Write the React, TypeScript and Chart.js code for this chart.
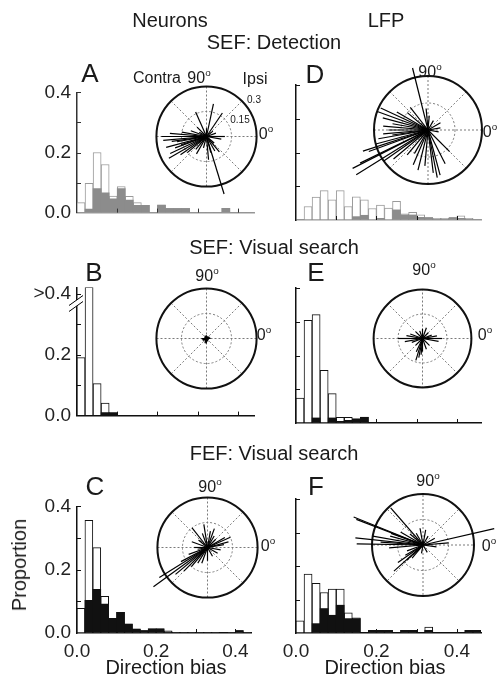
import React, { useEffect, useRef } from 'react';
import { Chart, registerables } from 'chart.js';

Chart.register(...registerables);

const FONT = '"Liberation Sans", Arial, Helvetica, sans-serif';
const BIN = 0.02;

// ---- Histogram data (proportion per 0.02 bin of direction bias) ----
// Neurons, SEF detection (A)
const aAll = [0.033, 0.097, 0.2, 0.16, 0.055, 0.087, 0.054, 0.033, 0.024, 0, 0.025, 0.014, 0.014, 0.014, 0, 0, 0, 0, 0.014, 0, 0, 0];
const aSig = [0, 0.012, 0.08, 0.066, 0.046, 0.08, 0.042, 0.024, 0.024, 0, 0.025, 0.013, 0.013, 0.013, 0, 0, 0, 0, 0.014, 0, 0, 0];
// Neurons, SEF visual search (B)
const bAll = [0.19, 0.42, 0.105, 0.041, 0, 0, 0, 0, 0, 0, 0, 0, 0, 0, 0, 0, 0, 0, 0, 0, 0, 0];
const bSig = [0, 0, 0, 0.01, 0.01, 0, 0, 0, 0, 0, 0, 0, 0, 0, 0, 0, 0, 0, 0, 0, 0, 0];
// Neurons, FEF visual search (C)
const cAll = [0.078, 0.356, 0.27, 0.116, 0.046, 0.065, 0.028, 0.012, 0.008, 0.013, 0.013, 0.007, 0.002, 0.002, 0.002, 0.002, 0.002, 0.002, 0, 0.002, 0.008, 0.002];
const cSig = [0, 0.103, 0.138, 0.091, 0.046, 0.065, 0.028, 0.012, 0.008, 0.013, 0.013, 0.004, 0.002, 0.002, 0.002, 0.002, 0.002, 0.002, 0, 0.002, 0.008, 0.002];
// LFP, SEF detection (D)
const dAll = [0, 0.04, 0.068, 0.087, 0.06, 0.087, 0.04, 0.069, 0.06, 0.034, 0.044, 0.035, 0.055, 0.018, 0.023, 0.015, 0.008, 0.005, 0.005, 0.008, 0.012, 0.005, 0];
const dSig = [0, 0, 0, 0, 0, 0, 0, 0.01, 0.014, 0, 0.005, 0, 0.03, 0.015, 0.015, 0.008, 0.005, 0.003, 0.003, 0.005, 0.005, 0.003, 0];
// LFP, SEF visual search (E)
const eAll = [0.074, 0.304, 0.321, 0.156, 0.087, 0.017, 0.017, 0.012, 0.017, 0, 0, 0, 0, 0, 0, 0, 0, 0, 0, 0, 0, 0, 0];
const eSig = [0, 0, 0.015, 0, 0.015, 0.005, 0.008, 0.012, 0.017, 0, 0, 0, 0, 0, 0, 0, 0, 0, 0, 0, 0, 0, 0];
// LFP, FEF visual search (F)
const fAll = [0.036, 0.176, 0.148, 0.121, 0.131, 0.131, 0.06, 0.045, 0, 0.008, 0.008, 0.008, 0, 0.008, 0.008, 0, 0.018, 0, 0, 0, 0, 0.008, 0.008];
const fSig = [0, 0, 0.028, 0.073, 0.053, 0.083, 0.043, 0.043, 0, 0.008, 0.005, 0.008, 0, 0.008, 0.008, 0, 0.008, 0, 0, 0, 0, 0.008, 0.008];

// ---- Polar insets: preferred direction (deg) and magnitude ----
const aAng = [287, 78, 56, 185, 180, 195, 205, 210, 200, 190, 220, 240, 275, 285, 300, 0, 350, 20, 114, 135, 160, 170, 215, 230, 255, 90, 40, 320, 150, 175, 188, 198, 310];
const aMag = [0.36, 0.2, 0.17, 0.26, 0.27, 0.25, 0.24, 0.26, 0.2, 0.18, 0.15, 0.12, 0.14, 0.1, 0.1, 0.11, 0.09, 0.06, 0.16, 0.08, 0.1, 0.15, 0.19, 0.1, 0.07, 0.05, 0.05, 0.06, 0.05, 0.22, 0.21, 0.16, 0.12];
const bAng = [2, 33, 58, 91, 122, 148, 181, 207, 238, 268, 297, 331, 17, 196, 252, 104];
const bMag = [0.025, 0.02, 0.015, 0.02, 0.02, 0.015, 0.03, 0.025, 0.02, 0.03, 0.02, 0.015, 0.02, 0.025, 0.03, 0.015];
const cAng = [216, 212, 220, 225, 208, 230, 128, 99, 80, 24, 30, 10, 350, 330, 300, 270, 250, 238, 180, 160, 140, 60, 45, 200, 190, 110, 70, 15];
const cMag = [0.4, 0.34, 0.25, 0.2, 0.18, 0.15, 0.15, 0.14, 0.1, 0.15, 0.12, 0.1, 0.08, 0.07, 0.06, 0.08, 0.1, 0.11, 0.08, 0.1, 0.07, 0.08, 0.07, 0.12, 0.06, 0.09, 0.12, 0.13];
const dAng = [207, 212, 206, 200, 195, 190, 185, 180, 175, 170, 165, 160, 155, 150, 140, 128, 104, 95, 85, 60, 30, 10, 350, 315, 297, 285, 281, 277, 265, 256, 247, 240, 230, 220, 215, 198, 188];
const dMag = [0.47, 0.47, 0.42, 0.35, 0.3, 0.28, 0.25, 0.22, 0.25, 0.2, 0.26, 0.3, 0.29, 0.2, 0.15, 0.16, 0.355, 0.12, 0.08, 0.06, 0.08, 0.07, 0.06, 0.17, 0.21, 0.26, 0.27, 0.24, 0.2, 0.23, 0.21, 0.15, 0.18, 0.25, 0.3, 0.38, 0.2];
const eAng = [180, 0, 253, 259, 265, 245, 270, 290, 315, 20, 45, 70, 90, 110, 135, 160, 200, 225, 10, 350, 170, 190];
const eMag = [0.15, 0.12, 0.14, 0.12, 0.1, 0.09, 0.08, 0.07, 0.06, 0.06, 0.05, 0.07, 0.06, 0.05, 0.06, 0.08, 0.07, 0.06, 0.09, 0.1, 0.1, 0.11];
const fAng = [158, 159, 174, 179, 13, 131, 222, 223, 352, 170, 176, 165, 160, 150, 140, 120, 100, 80, 60, 30, 5, 200, 210, 230, 260, 300, 185, 215];
const fMag = [0.44, 0.42, 0.4, 0.39, 0.43, 0.29, 0.23, 0.13, 0.08, 0.3, 0.25, 0.2, 0.2, 0.15, 0.1, 0.08, 0.1, 0.09, 0.06, 0.08, 0.15, 0.1, 0.12, 0.1, 0.05, 0.05, 0.2, 0.18];

const POLAR_OUTER = 0.3;
const POLAR_INNER = 0.15;
const POLAR_GRID_ANGLES = [0, 45, 90, 135, 180, 225, 270, 315];
const POLAR_RANGE = 0.5;

function evenLabel(v: number, top?: string) {
  const k = Math.round(v * 10);
  if (k % 2 !== 0) return '';
  if (top && k === 4) return top;
  return (k / 10).toFixed(1);
}

function makeTickPlugin(color: string, breakMark: boolean) {
  return {
    id: 'inwardTicks',
    afterDraw(chart: any) {
      const { ctx, chartArea } = chart;
      const ys = chart.scales.y;
      const xs = chart.scales.x2;
      ctx.save();
      ctx.strokeStyle = color;
      ctx.lineWidth = 1;
      ys.ticks.forEach((t: any) => {
        if (Math.abs(t.value) < 1e-9) return;
        const py = Math.round(ys.getPixelForValue(t.value)) + 0.5;
        ctx.beginPath();
        ctx.moveTo(chartArea.left, py);
        ctx.lineTo(chartArea.left + 4, py);
        ctx.stroke();
      });
      xs.ticks.forEach((t: any) => {
        if (Math.abs(t.value) < 1e-9) return;
        const px = Math.round(xs.getPixelForValue(t.value)) + 0.5;
        ctx.beginPath();
        ctx.moveTo(px, chartArea.bottom);
        ctx.lineTo(px, chartArea.bottom - 4);
        ctx.stroke();
      });
      if (breakMark) {
        const py = ys.getPixelForValue(0.4) + 4;
        const lx = chartArea.left;
        ctx.fillStyle = '#fff';
        ctx.beginPath();
        ctx.moveTo(lx - 8, py + 8);
        ctx.lineTo(lx + 6, py - 2);
        ctx.lineTo(lx + 6, py + 4);
        ctx.lineTo(lx - 8, py + 14);
        ctx.closePath();
        ctx.fill();
        ctx.strokeStyle = '#000';
        ctx.beginPath();
        ctx.moveTo(lx - 8, py + 8);
        ctx.lineTo(lx + 6, py - 2);
        ctx.moveTo(lx - 8, py + 14);
        ctx.lineTo(lx + 6, py + 4);
        ctx.stroke();
      }
      ctx.restore();
    },
  };
}

type HistProps = {
  all: number[];
  sig: number[];
  yMax: number;
  left: number;
  top: number;
  width: number;
  height: number;
  padTop: number;
  yWidth: number;
  xHeight: number;
  yLabels: boolean;
  xLabels: boolean;
  outline: string;
  fill: string;
  axisX: string;
  axisY: string;
  topLabel?: string;
  breakMark?: boolean;
};

function Histogram(p: HistProps) {
  const ref = useRef<HTMLCanvasElement>(null);
  useEffect(() => {
    const labels = p.all.map((_, i) => (i * BIN).toFixed(2));
    const chart = new Chart(ref.current as HTMLCanvasElement, {
      type: 'bar',
      data: {
        labels,
        datasets: [
          {
            data: p.all,
            backgroundColor: '#ffffff',
            borderColor: p.outline,
            borderWidth: 1,
            grouped: false,
            order: 2,
            barPercentage: 1,
            categoryPercentage: 1,
          } as any,
          {
            data: p.sig,
            backgroundColor: p.fill,
            borderColor: p.fill,
            borderWidth: 0,
            grouped: false,
            order: 1,
            barPercentage: 1,
            categoryPercentage: 1,
          } as any,
        ],
      },
      options: {
        animation: false,
        responsive: false,
        events: [],
        layout: { padding: { top: p.padTop, right: 2, left: 0, bottom: 0 } },
        plugins: { legend: { display: false }, tooltip: { enabled: false } },
        scales: {
          x: { type: 'category', display: false, offset: true },
          x2: {
            type: 'linear',
            position: 'bottom',
            offset: false,
            min: 0,
            max: p.all.length * BIN,
            afterFit: (s: any) => {
              s.height = p.xHeight;
            },
            grid: { drawOnChartArea: false, drawTicks: false, offset: false },
            border: { color: p.axisX, width: 1.5 },
            ticks: {
              stepSize: 0.1,
              includeBounds: false,
              display: p.xLabels,
              padding: 7,
              autoSkip: false,
              maxRotation: 0,
              color: '#222',
              font: { family: FONT, size: 19 },
              callback: (v: any) => evenLabel(Number(v)),
            },
          },
          y: {
            type: 'linear',
            min: 0,
            max: p.yMax,
            afterFit: (s: any) => {
              s.width = p.yWidth;
            },
            grid: { drawOnChartArea: false, drawTicks: false },
            border: { color: p.axisY, width: 1.5 },
            ticks: {
              stepSize: 0.1,
              includeBounds: false,
              display: p.yLabels,
              padding: 6,
              autoSkip: false,
              color: '#222',
              font: { family: FONT, size: 19 },
              callback: (v: any) => evenLabel(Number(v), p.topLabel),
            },
          },
        },
      } as any,
      plugins: [makeTickPlugin(p.axisY, !!p.breakMark)],
    });
    return () => chart.destroy();
  }, []);
  return (
    <canvas
      ref={ref}
      width={p.width}
      height={p.height}
      style={{ position: 'absolute', left: p.left, top: p.top, width: p.width, height: p.height }}
    />
  );
}

const polarGrid = {
  id: 'polarGrid',
  beforeDatasetsDraw(chart: any) {
    const { ctx } = chart;
    const xs = chart.scales.x;
    const ys = chart.scales.y;
    const cx = xs.getPixelForValue(0);
    const cy = ys.getPixelForValue(0);
    const R = xs.getPixelForValue(POLAR_OUTER) - cx;
    const ri = xs.getPixelForValue(POLAR_INNER) - cx;
    ctx.save();
    ctx.strokeStyle = '#7a7a7a';
    ctx.lineWidth = 1;
    ctx.setLineDash([2, 2]);
    POLAR_GRID_ANGLES.forEach((a) => {
      const r = (a * Math.PI) / 180;
      ctx.beginPath();
      ctx.moveTo(cx, cy);
      ctx.lineTo(cx + R * Math.cos(r), cy - R * Math.sin(r));
      ctx.stroke();
    });
    ctx.beginPath();
    ctx.arc(cx, cy, ri, 0, Math.PI * 2);
    ctx.stroke();
    ctx.setLineDash([]);
    ctx.strokeStyle = '#111';
    ctx.lineWidth = 2;
    ctx.beginPath();
    ctx.arc(cx, cy, R, 0, Math.PI * 2);
    ctx.stroke();
    ctx.restore();
  },
};

type PolarProps = { cx: number; cy: number; r: number; ang: number[]; mag: number[] };

function Polar({ cx, cy, r, ang, mag }: PolarProps) {
  const ref = useRef<HTMLCanvasElement>(null);
  const S = Math.round((2 * POLAR_RANGE * r) / POLAR_OUTER);
  useEffect(() => {
    const datasets = ang.map((a, i) => ({
      data: [
        { x: 0, y: 0 },
        { x: mag[i] * Math.cos((a * Math.PI) / 180), y: mag[i] * Math.sin((a * Math.PI) / 180) },
      ],
      showLine: true,
      borderColor: '#000',
      borderWidth: 1.2,
      pointRadius: 0,
      clip: false,
    }));
    const chart = new Chart(ref.current as HTMLCanvasElement, {
      type: 'scatter',
      data: { datasets } as any,
      options: {
        animation: false,
        responsive: false,
        events: [],
        layout: { padding: 0 },
        plugins: { legend: { display: false }, tooltip: { enabled: false } },
        scales: {
          x: { type: 'linear', min: -POLAR_RANGE, max: POLAR_RANGE, display: false },
          y: { type: 'linear', min: -POLAR_RANGE, max: POLAR_RANGE, display: false },
        },
      } as any,
      plugins: [polarGrid],
    });
    return () => chart.destroy();
  }, []);
  return (
    <canvas
      ref={ref}
      width={S}
      height={S}
      style={{ position: 'absolute', left: Math.round(cx - S / 2), top: Math.round(cy - S / 2), width: S, height: S }}
    />
  );
}

function T({ x, y, size, children, rotate }: { x: number; y: number; size: number; children: any; rotate?: boolean }) {
  return (
    <div
      style={{
        position: 'absolute',
        left: x,
        top: y,
        transform: `translate(-50%, -50%)${rotate ? ' rotate(-90deg)' : ''}`,
        fontFamily: FONT,
        fontSize: size,
        lineHeight: 1,
        whiteSpace: 'nowrap',
        color: '#1a1a1a',
      }}
    >
      {children}
    </div>
  );
}

function Deg({ x, y, v }: { x: number; y: number; v: string }) {
  return (
    <T x={x} y={y} size={16}>
      {v}
      <span style={{ fontSize: '0.62em', position: 'relative', top: '-0.7em' }}>o</span>
    </T>
  );
}

export default function App() {
  const grayX = '#9a9a9a';
  return (
    <div
      style={{
        position: 'absolute',
        left: 0,
        top: 0,
        width: 497,
        height: 686,
        overflow: 'hidden',
        background: '#fff',
      }}
    >
      <Histogram all={aAll} sig={aSig} yMax={0.4} left={0} top={75} width={256} height={155} padTop={10} yWidth={77} xHeight={10}
        yLabels xLabels={false} outline="#9a9a9a" fill="#8c8c8c" axisX={grayX} axisY="#333" />
      <Histogram all={dAll} sig={dSig} yMax={0.4} left={240} top={75} width={243} height={155} padTop={10} yWidth={56} xHeight={10}
        yLabels={false} xLabels={false} outline="#9a9a9a" fill="#8c8c8c" axisX={grayX} axisY="#111" />
      <Histogram all={bAll} sig={bSig} yMax={0.42} left={0} top={270} width={256} height={163} padTop={11} yWidth={77} xHeight={10}
        yLabels xLabels={false} outline="#111" fill="#111" axisX="#111" axisY="#111" topLabel=">0.4" breakMark />
      <Histogram all={eAll} sig={eSig} yMax={0.4} left={240} top={270} width={243} height={163} padTop={18} yWidth={56} xHeight={10}
        yLabels={false} xLabels={false} outline="#111" fill="#111" axisX="#111" axisY="#111" />
      <Histogram all={cAll} sig={cSig} yMax={0.4} left={0} top={489} width={256} height={180} padTop={10} yWidth={77} xHeight={36}
        yLabels xLabels outline="#111" fill="#111" axisX="#111" axisY="#111" />
      <Histogram all={fAll} sig={fSig} yMax={0.4} left={240} top={489} width={243} height={180} padTop={10} yWidth={56} xHeight={36}
        yLabels={false} xLabels outline="#111" fill="#111" axisX="#111" axisY="#111" />

      <Polar cx={206} cy={136} r={50} ang={aAng} mag={aMag} />
      <Polar cx={428} cy={130} r={54} ang={dAng} mag={dMag} />
      <Polar cx={206} cy={338} r={50} ang={bAng} mag={bMag} />
      <Polar cx={422} cy={338} r={49} ang={eAng} mag={eMag} />
      <Polar cx={207} cy={547} r={50} ang={cAng} mag={cMag} />
      <Polar cx={423} cy={545} r={51} ang={fAng} mag={fMag} />

      <T x={170} y={20} size={20}>Neurons</T>
      <T x={386} y={20} size={20}>LFP</T>
      <T x={274} y={42} size={20}>SEF: Detection</T>
      <T x={274} y={247} size={20}>SEF: Visual search</T>
      <T x={274} y={453} size={20}>FEF: Visual search</T>

      <T x={90} y={73} size={26}>A</T>
      <T x={315} y={74} size={26}>D</T>
      <T x={94} y={272} size={26}>B</T>
      <T x={316} y={272} size={26}>E</T>
      <T x={95} y={486} size={26}>C</T>
      <T x={316} y={486} size={26}>F</T>

      <T x={19} y={565} size={20} rotate>Proportion</T>
      <T x={166} y={667} size={20}>Direction bias</T>
      <T x={385} y={667} size={20}>Direction bias</T>

      <T x={157} y={78} size={16}>Contra</T>
      <T x={255} y={79} size={16}>Ipsi</T>
      <T x={254} y={100} size={10}>0.3</T>
      <T x={240} y={120} size={10}>0.15</T>

      <Deg x={199} y={78} v="90" />
      <Deg x={207} y={276} v="90" />
      <Deg x={210} y={487} v="90" />
      <Deg x={430} y={72} v="90" />
      <Deg x={424} y={270} v="90" />
      <Deg x={428} y={481} v="90" />
      <Deg x={266} y={134} v="0" />
      <Deg x={264} y={335} v="0" />
      <Deg x={268} y={546} v="0" />
      <Deg x={490} y={132} v="0" />
      <Deg x={485} y={335} v="0" />
      <Deg x={489} y={546} v="0" />
    </div>
  );
}
